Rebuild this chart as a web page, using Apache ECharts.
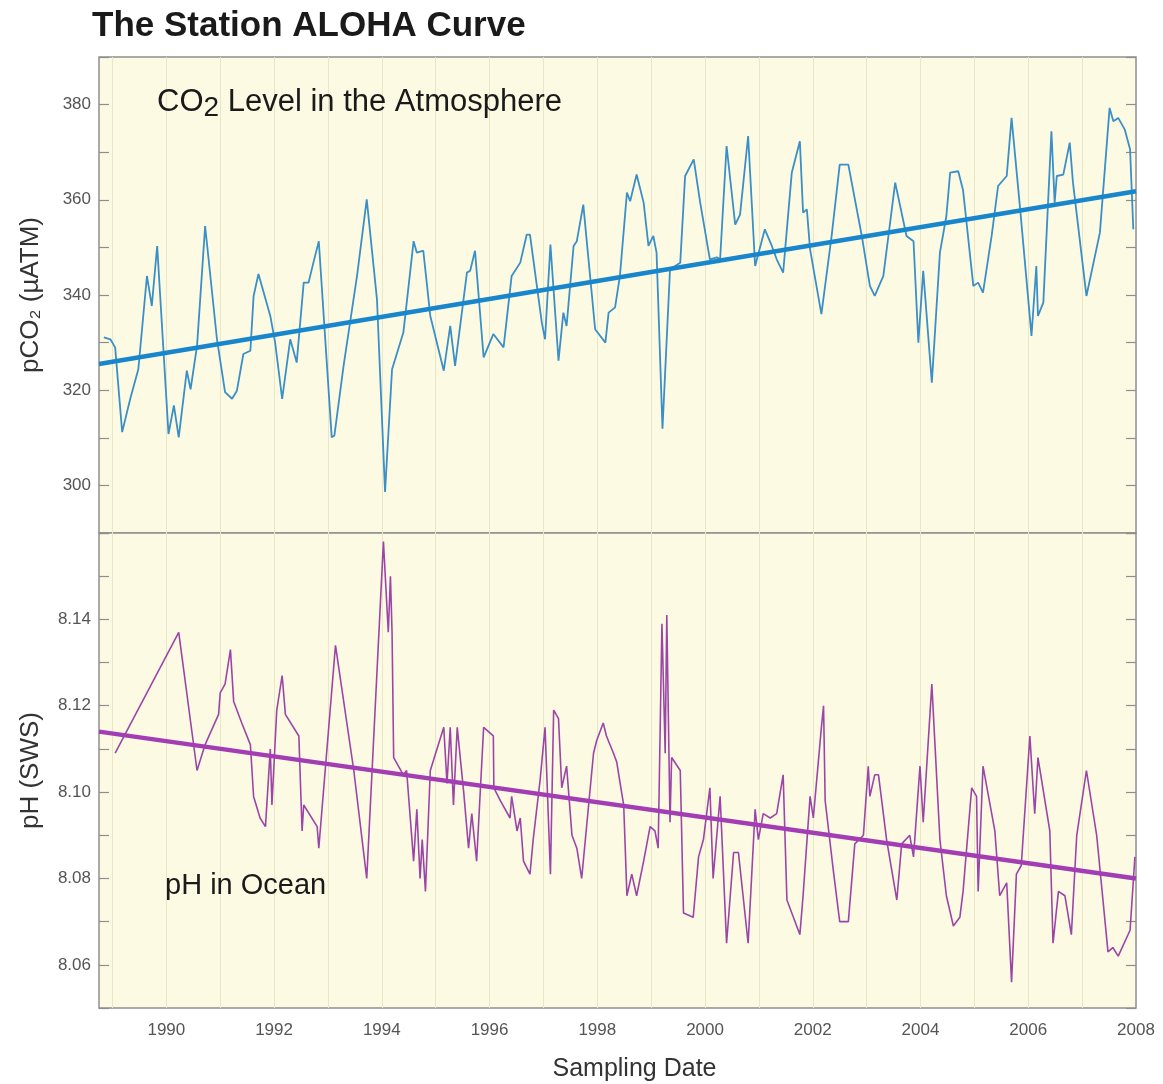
<!DOCTYPE html>
<html>
<head>
<meta charset="utf-8">
<title>The Station ALOHA Curve</title>
<script src="https://cdn.jsdelivr.net/npm/echarts@6/dist/echarts.min.js"></script>
<style>
  html, body { margin: 0; padding: 0; background: #ffffff; }
  #chart { width: 1163px; height: 1084px; }
</style>
</head>
<body>
<div id="chart"></div>
<script>
// [year, pCO2 µatm]
const co2Data = [
  [1988.84, 331.1], [1988.96, 330.7], [1989.05, 329.0], [1989.18, 311.2], [1989.33, 318.2],
  [1989.48, 324.4], [1989.64, 344.0], [1989.73, 337.7], [1989.83, 350.3], [1990.04, 310.8],
  [1990.14, 316.8], [1990.23, 310.1], [1990.38, 324.1], [1990.45, 320.2], [1990.57, 329.3],
  [1990.72, 354.5], [1990.94, 330.7], [1991.09, 319.6], [1991.22, 318.2], [1991.31, 319.9],
  [1991.43, 327.6], [1991.56, 328.3], [1991.62, 339.8], [1991.71, 344.4], [1991.93, 335.6],
  [1992.02, 330.0], [1992.15, 318.2], [1992.30, 330.7], [1992.42, 325.8], [1992.55, 342.6],
  [1992.64, 342.6], [1992.73, 346.8], [1992.83, 351.3], [1993.07, 310.1], [1993.12, 310.5],
  [1993.29, 325.1], [1993.54, 344.0], [1993.72, 360.1], [1993.91, 339.1], [1994.06, 298.6],
  [1994.19, 324.4], [1994.40, 332.1], [1994.59, 351.3], [1994.65, 348.9], [1994.77, 349.3],
  [1994.90, 335.6], [1995.15, 324.1], [1995.27, 333.5], [1995.36, 325.1], [1995.58, 344.7],
  [1995.64, 345.1], [1995.73, 349.3], [1995.89, 326.9], [1996.07, 331.8], [1996.26, 329.0],
  [1996.41, 344.0], [1996.57, 346.8], [1996.69, 352.7], [1996.75, 352.7], [1996.97, 334.2],
  [1997.03, 330.7], [1997.13, 350.6], [1997.28, 326.2], [1997.37, 336.3], [1997.43, 333.5],
  [1997.56, 350.3], [1997.62, 351.3], [1997.74, 359.0], [1997.96, 332.8], [1998.15, 330.0],
  [1998.21, 336.3], [1998.33, 337.4], [1998.42, 344.0], [1998.55, 361.5], [1998.61, 359.7],
  [1998.73, 365.3], [1998.86, 359.4], [1998.95, 350.3], [1999.04, 352.4], [1999.10, 348.9],
  [1999.21, 311.9], [1999.35, 345.4], [1999.54, 346.8], [1999.63, 365.0], [1999.79, 368.5],
  [1999.91, 359.4], [2000.09, 347.5], [2000.22, 347.9], [2000.28, 347.5], [2000.40, 371.3],
  [2000.56, 354.8], [2000.65, 356.9], [2000.80, 373.4], [2000.93, 346.1], [2001.11, 353.8],
  [2001.24, 350.3], [2001.33, 347.5], [2001.45, 344.7], [2001.61, 365.7], [2001.76, 372.3],
  [2001.82, 357.3], [2001.89, 358.0], [2001.95, 349.6], [2002.16, 336.0], [2002.35, 352.4],
  [2002.50, 367.4], [2002.66, 367.4], [2002.91, 352.4], [2003.06, 341.9], [2003.15, 339.8],
  [2003.31, 344.0], [2003.53, 363.6], [2003.74, 352.4], [2003.87, 351.3], [2003.96, 330.0],
  [2004.05, 345.1], [2004.21, 321.6], [2004.36, 348.9], [2004.48, 356.6], [2004.55, 365.7],
  [2004.70, 366.0], [2004.79, 362.0], [2004.98, 341.9], [2005.07, 342.6], [2005.16, 340.5],
  [2005.32, 352.4], [2005.44, 362.9], [2005.60, 365.0], [2005.69, 377.2], [2005.85, 358.0],
  [2006.06, 331.4], [2006.15, 346.1], [2006.18, 335.6], [2006.28, 338.4], [2006.43, 374.4],
  [2006.49, 359.4], [2006.53, 365.0], [2006.65, 365.3], [2006.77, 372.0], [2006.83, 363.6],
  [2007.08, 339.8], [2007.33, 353.1], [2007.51, 379.3], [2007.58, 376.5], [2007.67, 377.2],
  [2007.79, 374.8], [2007.89, 370.6], [2007.95, 353.8]
];
const co2Trend = [[1988.75, 325.5], [2008, 361.8]];

// [year, pH]
const phData = [
  [1989.05, 8.109], [1990.23, 8.137], [1990.57, 8.105], [1990.72, 8.111], [1990.97, 8.118],
  [1991.00, 8.123], [1991.09, 8.125], [1991.19, 8.133], [1991.25, 8.121], [1991.40, 8.116],
  [1991.56, 8.111], [1991.62, 8.099], [1991.74, 8.094], [1991.84, 8.092], [1991.93, 8.110],
  [1991.96, 8.097], [1992.05, 8.119], [1992.15, 8.127], [1992.21, 8.118], [1992.46, 8.113],
  [1992.52, 8.091], [1992.55, 8.097], [1992.80, 8.092], [1992.83, 8.087], [1993.14, 8.134],
  [1993.48, 8.105], [1993.72, 8.080], [1994.03, 8.158], [1994.12, 8.137], [1994.16, 8.150],
  [1994.19, 8.137], [1994.22, 8.108], [1994.40, 8.104], [1994.46, 8.105], [1994.59, 8.084],
  [1994.65, 8.096], [1994.71, 8.080], [1994.75, 8.089], [1994.81, 8.077], [1994.90, 8.105],
  [1995.15, 8.115], [1995.21, 8.102], [1995.27, 8.115], [1995.33, 8.097], [1995.40, 8.115],
  [1995.52, 8.100], [1995.61, 8.087], [1995.67, 8.095], [1995.76, 8.084], [1995.89, 8.115],
  [1996.07, 8.113], [1996.08, 8.101], [1996.20, 8.098], [1996.38, 8.094], [1996.41, 8.099],
  [1996.51, 8.091], [1996.57, 8.094], [1996.63, 8.084], [1996.75, 8.081], [1996.81, 8.089],
  [1996.94, 8.103], [1997.03, 8.115], [1997.13, 8.081], [1997.19, 8.119], [1997.28, 8.117],
  [1997.34, 8.101], [1997.43, 8.106], [1997.53, 8.090], [1997.62, 8.087], [1997.71, 8.080],
  [1997.93, 8.109], [1997.99, 8.112], [1998.11, 8.116], [1998.17, 8.113], [1998.30, 8.109],
  [1998.36, 8.107], [1998.49, 8.097], [1998.55, 8.076], [1998.64, 8.081], [1998.73, 8.076],
  [1998.86, 8.084], [1998.98, 8.092], [1999.07, 8.091], [1999.13, 8.087], [1999.20, 8.139],
  [1999.26, 8.109], [1999.29, 8.141], [1999.35, 8.093], [1999.38, 8.108], [1999.54, 8.105],
  [1999.60, 8.072], [1999.78, 8.071], [1999.88, 8.085], [1999.97, 8.089], [2000.09, 8.101],
  [2000.15, 8.080], [2000.28, 8.099], [2000.40, 8.065], [2000.53, 8.086], [2000.62, 8.086],
  [2000.80, 8.065], [2000.93, 8.096], [2000.99, 8.089], [2001.08, 8.095], [2001.21, 8.094],
  [2001.33, 8.095], [2001.45, 8.104], [2001.52, 8.075], [2001.76, 8.067], [2001.82, 8.076],
  [2001.95, 8.099], [2002.01, 8.094], [2002.16, 8.115], [2002.20, 8.120], [2002.23, 8.098],
  [2002.38, 8.082], [2002.50, 8.070], [2002.66, 8.070], [2002.78, 8.088], [2002.94, 8.090],
  [2003.03, 8.106], [2003.06, 8.099], [2003.15, 8.104], [2003.22, 8.104], [2003.37, 8.089],
  [2003.56, 8.075], [2003.65, 8.088], [2003.80, 8.090], [2003.87, 8.085], [2003.99, 8.106],
  [2004.05, 8.093], [2004.21, 8.125], [2004.36, 8.089], [2004.48, 8.076], [2004.61, 8.069],
  [2004.73, 8.071], [2004.79, 8.077], [2004.95, 8.101], [2005.04, 8.099], [2005.07, 8.077],
  [2005.16, 8.106], [2005.38, 8.091], [2005.47, 8.076], [2005.60, 8.079], [2005.69, 8.056],
  [2005.78, 8.081], [2005.87, 8.083], [2006.03, 8.113], [2006.12, 8.095], [2006.18, 8.108],
  [2006.40, 8.091], [2006.46, 8.065], [2006.56, 8.077], [2006.68, 8.076], [2006.80, 8.067],
  [2006.90, 8.090], [2007.08, 8.105], [2007.27, 8.090], [2007.48, 8.063], [2007.57, 8.064],
  [2007.67, 8.062], [2007.89, 8.068], [2007.98, 8.085]
];
const phTrend = [[1988.75, 8.114], [2008, 8.080]];

// axis ticks and labels
const yearLines = [1989, 1990, 1991, 1992, 1993, 1994, 1995, 1996, 1997, 1998,
                   1999, 2000, 2001, 2002, 2003, 2004, 2005, 2006, 2007];
const yearLabels = [1990, 1992, 1994, 1996, 1998, 2000, 2002, 2004, 2006, 2008];
const co2Labels = [300, 320, 340, 360, 380];
const phLabels = [8.06, 8.08, 8.10, 8.12, 8.14];

const font = "'Liberation Sans', Arial, Helvetica, sans-serif";
const frame = '#8e8e8e';
const plotBg = '#fdfae4';
const gridLine = '#ece6c9';
const labelColor = '#555555';

const chart = echarts.init(document.getElementById('chart'));

function sideAxis(grid, min, max, interval, position) {
  return {
    type: 'value',
    gridIndex: grid,
    position: position,
    min: min,
    max: max,
    interval: interval,
    axisLine: { show: false },
    axisTick: { show: true, inside: true, length: 10, lineStyle: { color: frame, width: 1.2 } },
    axisLabel: { show: false },
    splitLine: { show: false }
  };
}

const co2Left = sideAxis(0, 290, 390, 10, 'left');
co2Left.axisLabel = {
  show: true, customValues: co2Labels, margin: 8,
  color: labelColor, fontSize: 17, fontFamily: font
};
co2Left.name = 'pCO\u2082 (\u00b5ATM)';
co2Left.nameLocation = 'middle';
co2Left.nameGap = 55;
co2Left.nameTextStyle = { color: '#333', fontSize: 26, fontFamily: font };

const phLeft = sideAxis(1, 8.05, 8.16, 0.01, 'left');
phLeft.axisLabel = {
  show: true, customValues: phLabels, margin: 8,
  color: labelColor, fontSize: 17, fontFamily: font,
  formatter: v => v.toFixed(2)
};
phLeft.name = 'pH (SWS)';
phLeft.nameLocation = 'middle';
phLeft.nameGap = 55;
phLeft.nameTextStyle = { color: '#333', fontSize: 26, fontFamily: font };

const option = {
  animation: false,
  backgroundColor: '#ffffff',
  title: {
    text: 'The Station ALOHA Curve',
    left: 92,
    top: 9,
    padding: 0,
    textStyle: { fontSize: 35, fontWeight: 'bold', color: '#1a1a1a', fontFamily: font }
  },
  grid: [
    { left: 99, right: 27, top: 57, height: 476, show: true,
      backgroundColor: plotBg, borderColor: frame, borderWidth: 1.5 },
    { left: 99, right: 27, top: 533, height: 475, show: true,
      backgroundColor: plotBg, borderColor: frame, borderWidth: 1.5 }
  ],
  xAxis: [
    {
      type: 'value', gridIndex: 0, min: 1988.75, max: 2008,
      axisLine: { show: false },
      axisTick: { show: false, customValues: yearLines },
      axisLabel: { show: false },
      splitLine: { show: true, lineStyle: { color: gridLine, width: 1 } }
    },
    {
      type: 'value', gridIndex: 1, min: 1988.75, max: 2008,
      axisLine: { show: false },
      axisTick: { show: false, customValues: yearLines },
      axisLabel: {
        show: true, customValues: yearLabels, margin: 14,
        color: labelColor, fontSize: 17, fontFamily: font,
        formatter: v => String(v)
      },
      splitLine: { show: true, lineStyle: { color: gridLine, width: 1 } },
      name: 'Sampling Date',
      nameLocation: 'middle',
      nameGap: 49,
      nameTextStyle: { color: '#333', fontSize: 25, fontFamily: font, padding: [0, 0, 0, 34] }
    }
  ],
  yAxis: [
    co2Left,
    sideAxis(0, 290, 390, 10, 'right'),
    phLeft,
    sideAxis(1, 8.05, 8.16, 0.01, 'right')
  ],
  graphic: [
    {
      type: 'text', left: 157, top: 82, z: 100,
      style: {
        text: '{a|CO}{b|2}{a| Level in the Atmosphere}',
        rich: {
          a: { fontSize: 31, fontFamily: font, fill: '#1a1a1a', lineHeight: 36 },
          b: { fontSize: 28, fontFamily: font, fill: '#1a1a1a', lineHeight: 36, padding: [12, 0, 0, 0] }
        }
      }
    },
    {
      type: 'text', left: 165, top: 871, z: 100,
      style: { text: 'pH in Ocean', fontSize: 29, fontFamily: font, fill: '#1a1a1a' }
    }
  ],
  series: [
    {
      name: 'pCO2', type: 'line', xAxisIndex: 0, yAxisIndex: 0,
      data: co2Data, showSymbol: false, symbol: 'none',
      lineStyle: { color: '#3a8fc7', width: 1.8 }
    },
    {
      name: 'pCO2 trend', type: 'line', xAxisIndex: 0, yAxisIndex: 0,
      data: co2Trend, showSymbol: false, symbol: 'none',
      lineStyle: { color: '#1886cc', width: 4.5 }
    },
    {
      name: 'pH', type: 'line', xAxisIndex: 1, yAxisIndex: 2,
      data: phData, showSymbol: false, symbol: 'none',
      lineStyle: { color: '#9b46a7', width: 1.6 }
    },
    {
      name: 'pH trend', type: 'line', xAxisIndex: 1, yAxisIndex: 2,
      data: phTrend, showSymbol: false, symbol: 'none',
      lineStyle: { color: '#a23db3', width: 4.5 }
    }
  ]
};

chart.setOption(option);
</script>
</body>
</html>
